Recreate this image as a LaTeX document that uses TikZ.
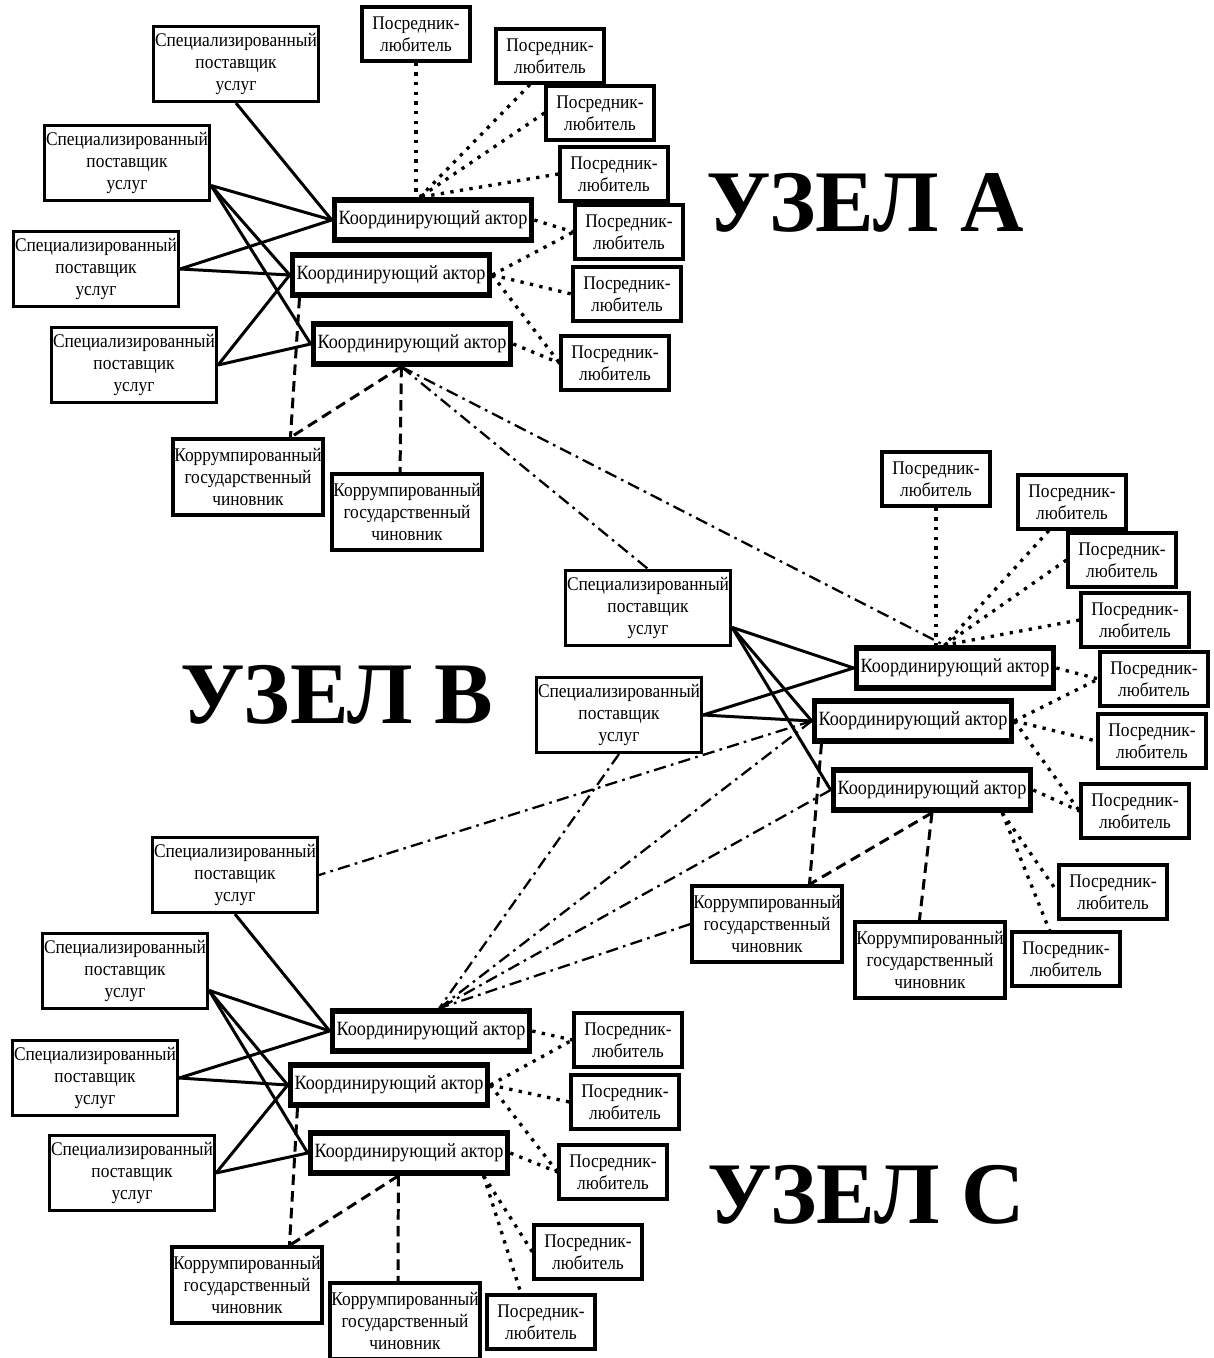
\documentclass[tikz,border=0pt]{standalone}
\usepackage{fontspec}
\setmainfont{Liberation Serif}[FakeStretch=0.9]
\newfontfamily\uzelfont{Liberation Serif}
\usetikzlibrary{positioning}

\begin{document}
\begin{tikzpicture}[x=0.02cm,y=-0.02cm,font=\fontsize{11}{12.3}\selectfont,
    box/.style={draw,line width=1.8pt,align=center,inner sep=0.5pt},
    spec/.style={box,minimum width=3.3cm,minimum height=1.5cm},
    posr/.style={box,minimum width=2.16cm,minimum height=1.08cm},
    korr/.style={box,minimum width=3.0cm,minimum height=1.52cm},
    actor/.style={box,line width=3.2pt,minimum width=3.94cm,minimum height=0.8cm,font=\fontsize{11.5}{13}\selectfont},
    uzel/.style={font=\uzelfont\fontsize{50}{60}\selectfont\bfseries},
    link/.style={line width=1.7pt},
    bribe/.style={line width=1.7pt,dash pattern=on 6pt off 3.5pt},
    agent/.style={line width=1.9pt,dash pattern=on 1.9pt off 3.6pt},
    net/.style={line width=1.3pt,dash pattern=on 7pt off 3pt on 1.5pt off 3pt}]

    \useasboundingbox (0,0) rectangle (1213,1358);

    % Node A
    \node [spec] at (236,64) (SA1) {Специализированный\\поставщик\\услуг};
    \node [spec] at (127,163) (SA2) {Специализированный\\поставщик\\услуг};
    \node [spec] at (96,269) (SA3) {Специализированный\\поставщик\\услуг};
    \node [spec] at (134,365) (SA4) {Специализированный\\поставщик\\услуг};

    \node [actor] at (433,220) (CA1) {Координирующий актор};
    \node [actor] at (391,275) (CA2) {Координирующий актор};
    \node [actor] at (412,344) (CA3) {Координирующий актор};

    \node [posr] at (416,34) (PA1) {Посредник-\\любитель};
    \node [posr] at (550,56) (PA2) {Посредник-\\любитель};
    \node [posr] at (600,113) (PA3) {Посредник-\\любитель};
    \node [posr] at (614,174) (PA4) {Посредник-\\любитель};
    \node [posr] at (629,232) (PA5) {Посредник-\\любитель};
    \node [posr] at (627,294) (PA6) {Посредник-\\любитель};
    \node [posr] at (615,363) (PA7) {Посредник-\\любитель};

    \node [korr] at (248,477) (KA1) {Коррумпированный\\государственный\\чиновник};
    \node [korr] at (407,512) (KA2) {Коррумпированный\\государственный\\чиновник};

    \node [uzel] at (865,203) (LA) {УЗЕЛ А};

    % Node B
    \node [spec] at (648,608) (SB1) {Специализированный\\поставщик\\услуг};
    \node [spec] at (619,715) (SB2) {Специализированный\\поставщик\\услуг};

    \node [actor] at (955,668) (CB1) {Координирующий актор};
    \node [actor] at (913,721) (CB2) {Координирующий актор};
    \node [actor] at (932,790) (CB3) {Координирующий актор};

    \node [posr] at (936,479) (PB1) {Посредник-\\любитель};
    \node [posr] at (1072,502) (PB2) {Посредник-\\любитель};
    \node [posr] at (1122,560) (PB3) {Посредник-\\любитель};
    \node [posr] at (1135,620) (PB4) {Посредник-\\любитель};
    \node [posr] at (1154,679) (PB5) {Посредник-\\любитель};
    \node [posr] at (1152,741) (PB6) {Посредник-\\любитель};
    \node [posr] at (1135,811) (PB7) {Посредник-\\любитель};
    \node [posr] at (1113,892) (PB8) {Посредник-\\любитель};
    \node [posr] at (1066,959) (PB9) {Посредник-\\любитель};

    \node [korr] at (767,924) (KB1) {Коррумпированный\\государственный\\чиновник};
    \node [korr] at (930,960) (KB2) {Коррумпированный\\государственный\\чиновник};

    \node [uzel] at (337,695) (LB) {УЗЕЛ В};

    % Node C
    \node [spec] at (235,875) (SC0) {Специализированный\\поставщик\\услуг};
    \node [spec] at (125,971) (SC1) {Специализированный\\поставщик\\услуг};
    \node [spec] at (95,1078) (SC2) {Специализированный\\поставщик\\услуг};
    \node [spec] at (132,1173) (SC3) {Специализированный\\поставщик\\услуг};

    \node [actor] at (431,1031) (CC1) {Координирующий актор};
    \node [actor] at (389,1085) (CC2) {Координирующий актор};
    \node [actor] at (409,1153) (CC3) {Координирующий актор};

    \node [posr] at (628,1040) (PC1) {Посредник-\\любитель};
    \node [posr] at (625,1102) (PC2) {Посредник-\\любитель};
    \node [posr] at (613,1172) (PC3) {Посредник-\\любитель};
    \node [posr] at (588,1252) (PC4) {Посредник-\\любитель};
    \node [posr] at (541,1322) (PC5) {Посредник-\\любитель};

    \node [korr] at (247,1285) (KC1) {Коррумпированный\\государственный\\чиновник};
    \node [korr] at (405,1321) (KC2) {Коррумпированный\\государственный\\чиновник};

    \node [uzel] at (866,1195) (LC) {УЗЕЛ С};

    % Edges of node A
    \path[link]
    (SA1.south) edge (CA1.west)
    (SA2.-15) edge (CA1.west)
    (SA2.-15) edge (CA2.west)
    (SA2.-15) edge (CA3.west)
    (SA3.east) edge (CA1.west)
    (SA3.east) edge (CA2.west)
    (SA4.east) edge (CA2.west)
    (SA4.east) edge (CA3.west);

    \path[agent]
    (PA1.south) edge (PA1.south |- CA1.north)
    (PA2.235) edge (CA1.120)
    (PA3.west) edge (CA1.120)
    (PA4.west) edge (CA1.120)
    (CA1.east) edge (PA5.west)
    (CA2.east) edge (PA5.west)
    (CA2.east) edge (PA6.west)
    (CA2.east) edge (PA7.west)
    (CA3.east) edge (PA7.west);

    \path[bribe]
    (CA2.194) edge (KA1.43)
    (CA3.245) edge (KA1.43)
    (CA3.245) edge (KA2.100);

    % Edges of node B
    \path[link]
    (SB1.-13) edge (CB1.west)
    (SB1.-13) edge (CB2.west)
    (SB1.-13) edge (CB3.west)
    (SB2.east) edge (CB1.west)
    (SB2.east) edge (CB2.west);

    \path[agent]
    (PB1.south) edge (PB1.south |- CB1.north)
    (PB2.231) edge (CB1.115)
    (PB3.west) edge (CB1.115)
    (PB4.west) edge (CB1.115)
    (CB1.east) edge (PB5.west)
    (CB2.east) edge (PB5.west)
    (CB2.east) edge (PB6.west)
    (CB2.east) edge (PB7.west)
    (CB3.east) edge (PB7.west)
    (CB3.-18) edge (PB8.west)
    (CB3.-18) edge (PB9.120);

    \path[bribe]
    (CB2.194) edge (KB1.43)
    (CB3.south) edge (KB1.43)
    (CB3.south) edge (KB2.105);

    % Edges of node C
    \path[link]
    (SC0.south) edge (CC1.west)
    (SC1.-13) edge (CC1.west)
    (SC1.-13) edge (CC2.west)
    (SC1.-13) edge (CC3.west)
    (SC2.east) edge (CC1.west)
    (SC2.east) edge (CC2.west)
    (SC3.east) edge (CC2.west)
    (SC3.east) edge (CC3.west);

    \path[agent]
    (CC1.east) edge (PC1.west)
    (CC2.east) edge (PC1.west)
    (CC2.east) edge (PC2.west)
    (CC2.east) edge (PC3.west)
    (CC3.east) edge (PC3.west)
    (CC3.-17) edge (PC4.west)
    (CC3.-17) edge (PC5.125);

    \path[bribe]
    (CC2.194) edge (KC1.43)
    (CC3.245) edge (KC1.43)
    (CC3.245) edge (KC2.100);

    % Links between the nodes
    \path[net]
    (CA3.245) edge (CB1.115)
    (CA3.245) edge (SB1.north)
    (SB2.south) edge (CC1.70)
    (CB2.west) edge (SC0.east)
    (CB2.west) edge (CC1.70)
    (CB3.west) edge (CC1.70)
    (KB1.west) edge (CC1.70);

\end{tikzpicture}
\end{document}
